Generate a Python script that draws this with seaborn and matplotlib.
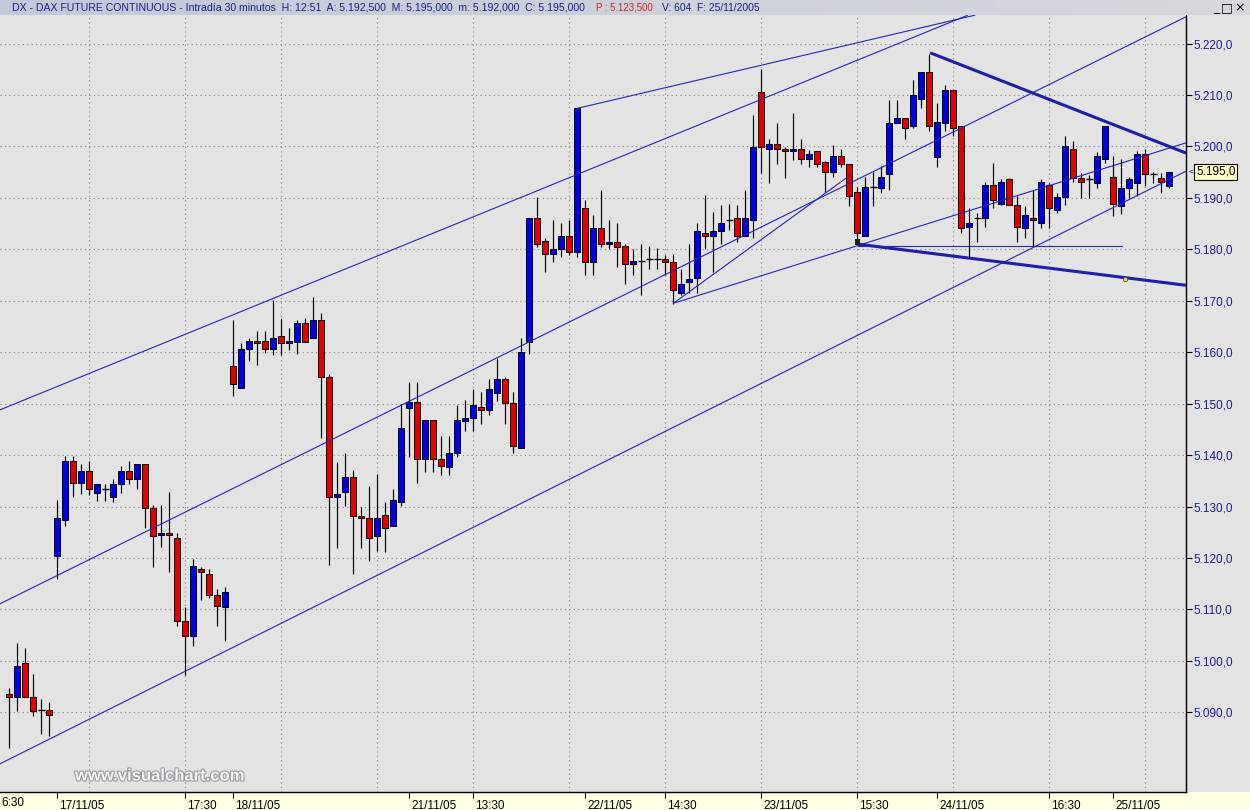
import numpy as np
import pandas as pd
import matplotlib
matplotlib.use("Agg")
import matplotlib.pyplot as plt
import seaborn as sns
import matplotlib.patheffects as pe
from matplotlib.patches import Rectangle
from matplotlib.transforms import ScaledTranslation
from matplotlib.colors import LinearSegmentedColormap
from matplotlib import font_manager

# ---------------- data (30-minute candles, DAX future) ----------------
opens = [5093.6, 5092.9, 5099.5, 5092.9, 5090.4, 5090.5,
         5120.3, 5127.3, 5138.9, 5134.6, 5136.9, 5132.7, 5133.4, 5131.8, 5134.3, 5136.9, 5135.3,
         5138.2, 5129.8, 5124.4, 5124.8, 5123.8, 5107.8, 5104.9, 5117.9, 5116.8, 5112.9, 5110.4,
         5157.3, 5153.1, 5160.6, 5162.2, 5162.2, 5160.6, 5163.2, 5161.7, 5162.0, 5165.6, 5162.7,
         5166.3, 5155.1, 5131.8, 5132.8, 5135.7, 5128.2, 5127.7, 5124.3, 5128.3, 5126.3, 5130.8,
         5149.2, 5150.3, 5139.2, 5146.8, 5139.2, 5137.7, 5140.4, 5146.7, 5147.2, 5149.3, 5148.8,
         5152.1, 5154.7, 5150.2, 5141.3, 5161.9, 5186.0, 5181.6, 5179.0, 5180.0, 5182.6, 5179.5,
         5188.0, 5177.6, 5184.1, 5181.0, 5181.5, 5180.7, 5177.1, 5177.7, 5178.1, 5178.1, 5178.1,
         5177.6, 5171.6, 5173.6, 5174.5, 5183.1, 5182.6, 5183.6, 5185.7, 5186.0, 5182.5, 5185.7,
         5210.6, 5199.4, 5200.4, 5199.5, 5199.1, 5199.5, 5197.5, 5199.1, 5196.9, 5195.0, 5198.1,
         5196.6, 5191.1, 5182.5, 5192.2, 5192.0, 5194.6, 5204.5, 5205.5, 5204.0, 5209.3, 5214.4,
         5198.0, 5204.5, 5211.0, 5204.0, 5184.4, 5186.0, 5186.0, 5192.5, 5188.9, 5193.6, 5188.6,
         5184.1, 5186.1, 5185.1, 5192.5, 5187.6, 5190.1, 5199.4, 5193.9, 5193.6, 5192.9, 5197.5,
         5194.0, 5188.5, 5192.0, 5192.9, 5198.5, 5194.6, 5193.9, 5192.4]
highs = [5094.7, 5103.4, 5102.5, 5097.4, 5092.6, 5092.0,
         5131.3, 5139.8, 5139.8, 5138.3, 5138.9, 5134.4, 5134.4, 5135.3, 5137.9, 5138.9, 5138.2,
         5138.2, 5130.3, 5130.3, 5132.8, 5124.8, 5110.5, 5119.9, 5118.3, 5117.8, 5113.9, 5114.3,
         5166.3, 5161.7, 5162.8, 5164.1, 5164.1, 5170.1, 5166.6, 5164.8, 5166.3, 5166.6, 5170.8,
         5167.7, 5155.8, 5138.7, 5140.4, 5137.2, 5130.0, 5133.9, 5136.3, 5130.8, 5133.4, 5149.9,
         5154.3, 5154.3, 5146.8, 5146.8, 5143.8, 5143.7, 5149.7, 5150.7, 5152.8, 5152.3, 5154.7,
         5158.8, 5155.2, 5152.2, 5162.7, 5186.0, 5190.2, 5182.1, 5185.7, 5185.1, 5185.7, 5207.4,
         5189.6, 5186.7, 5191.5, 5185.7, 5185.1, 5181.0, 5180.0, 5181.0, 5180.6, 5180.2, 5178.8,
         5179.1, 5176.2, 5181.0, 5185.1, 5190.6, 5187.2, 5188.6, 5188.9, 5188.6, 5191.5, 5206.1,
         5215.0, 5201.4, 5204.5, 5199.9, 5206.4, 5201.4, 5199.3, 5199.1, 5197.2, 5200.3, 5199.5,
         5196.6, 5192.2, 5194.1, 5195.1, 5196.2, 5209.0, 5209.0, 5205.5, 5212.9, 5214.4, 5218.0,
         5208.4, 5211.9, 5211.0, 5204.0, 5188.0, 5187.0, 5193.1, 5196.7, 5193.6, 5193.9, 5190.4,
         5188.4, 5191.5, 5193.6, 5192.8, 5190.9, 5202.0, 5201.0, 5194.9, 5194.4, 5199.0, 5204.0,
         5198.1, 5197.5, 5194.1, 5199.2, 5199.4, 5195.1, 5194.9, 5195.1]
lows = [5083.1, 5090.3, 5092.9, 5089.3, 5085.8, 5085.5,
        5115.9, 5126.2, 5131.8, 5132.4, 5132.2, 5131.1, 5131.1, 5130.8, 5132.7, 5134.3, 5133.4,
        5125.8, 5118.3, 5122.2, 5117.3, 5106.8, 5097.3, 5102.8, 5111.8, 5112.3, 5106.8, 5103.9,
        5151.5, 5153.1, 5158.2, 5157.6, 5159.8, 5159.5, 5159.5, 5160.4, 5159.7, 5162.0, 5162.7,
        5143.3, 5118.6, 5121.9, 5130.2, 5116.9, 5121.9, 5119.4, 5121.4, 5121.2, 5126.3, 5130.2,
        5139.7, 5134.6, 5136.8, 5136.8, 5136.1, 5136.1, 5139.7, 5144.7, 5144.7, 5146.0, 5147.7,
        5150.6, 5146.0, 5140.4, 5141.3, 5159.6, 5180.5, 5175.5, 5177.6, 5178.6, 5178.9, 5178.6,
        5175.1, 5175.1, 5180.5, 5180.0, 5176.5, 5173.2, 5175.1, 5171.1, 5176.2, 5176.2, 5175.1,
        5169.4, 5171.1, 5171.6, 5171.6, 5180.0, 5175.5, 5181.0, 5183.8, 5181.5, 5182.5, 5182.1,
        5194.8, 5192.9, 5196.5, 5193.9, 5197.4, 5196.5, 5195.9, 5195.9, 5191.1, 5194.1, 5195.9,
        5188.5, 5181.3, 5182.5, 5188.5, 5191.0, 5191.5, 5204.5, 5201.4, 5203.5, 5207.4, 5203.0,
        5195.9, 5203.0, 5202.0, 5183.1, 5178.6, 5181.5, 5184.4, 5188.0, 5188.6, 5188.6, 5181.5,
        5182.1, 5180.6, 5184.1, 5184.1, 5187.0, 5188.6, 5193.0, 5190.0, 5190.0, 5192.0, 5196.8,
        5186.5, 5186.9, 5190.0, 5190.4, 5192.3, 5192.8, 5191.0, 5191.9]
closes = [5092.9, 5099.0, 5092.9, 5090.3, 5090.4, 5089.4,
          5127.7, 5138.9, 5134.6, 5136.9, 5133.4, 5134.4, 5133.4, 5134.4, 5136.9, 5135.3, 5138.2,
          5129.8, 5124.3, 5124.8, 5124.4, 5107.8, 5104.9, 5118.4, 5117.3, 5112.9, 5110.7, 5113.3,
          5153.8, 5160.6, 5162.2, 5161.7, 5160.6, 5162.7, 5161.7, 5162.2, 5165.6, 5162.0, 5166.3,
          5155.1, 5131.8, 5132.4, 5135.7, 5128.2, 5127.7, 5123.8, 5127.7, 5125.8, 5131.3, 5145.3,
          5150.3, 5139.2, 5146.8, 5139.2, 5137.9, 5140.4, 5146.8, 5147.2, 5149.7, 5148.8, 5152.8,
          5154.7, 5150.2, 5141.8, 5160.1, 5186.0, 5181.0, 5179.0, 5180.0, 5182.6, 5179.5, 5207.4,
          5177.6, 5184.1, 5181.0, 5181.5, 5180.5, 5177.1, 5177.7, 5177.7, 5178.1, 5178.1, 5177.6,
          5172.0, 5173.3, 5174.2, 5183.6, 5182.6, 5183.6, 5185.2, 5185.7, 5182.5, 5186.0, 5199.9,
          5199.9, 5200.4, 5199.4, 5199.1, 5199.5, 5197.5, 5198.5, 5196.5, 5195.0, 5198.1, 5196.5,
          5190.4, 5183.1, 5192.2, 5192.2, 5194.1, 5204.5, 5205.5, 5203.5, 5210.0, 5214.4, 5204.0,
          5204.8, 5211.0, 5203.5, 5184.1, 5185.1, 5186.0, 5192.5, 5189.6, 5193.1, 5188.6, 5184.4,
          5186.7, 5185.7, 5193.1, 5188.0, 5190.2, 5200.1, 5193.9, 5193.0, 5193.6, 5198.1, 5204.0,
          5188.9, 5192.0, 5193.7, 5198.5, 5194.6, 5194.6, 5193.0, 5195.1]

# x-axis labels (bar index -> text)
tick_idx = [6, 22, 28, 50, 58, 72, 82, 94, 106, 116, 130, 138]
tick_labels = ['17/11/05', '17:30', '18/11/05', '21/11/05', '13:30', '22/11/05',
               '14:30', '23/11/05', '15:30', '24/11/05', '16:30', '25/11/05']
first_label = '6:30'
grid_idx = [10, 22, 34, 46, 58, 70, 82, 94, 106, 118, 130, 142]
price_levels = [5090, 5100, 5110, 5120, 5130, 5140, 5150, 5160, 5170, 5180, 5190, 5200, 5210, 5220]

# hand-drawn trend lines (bar index, price)
thin_x0 = [-1.16, 71.0, -1.16, -1.16, 83.2, 83.0]
thin_p0 = [5148.8, 5207.4, 5111.1, 5080.0, 5169.6, 5169.5]
thin_x1 = [119.8, 120.7, 147.1, 147.1, 147.1, 105.1]
thin_p1 = [5225.5, 5225.5, 5225.2, 5195.2, 5200.7, 5194.4]
thick_x0 = [115.1, 106.1]
thick_p0 = [5218.2, 5181.0]
thick_x1 = [147.1, 147.1]
thick_p1 = [5198.7, 5173.0]
hline_x = [106.1, 139.1]
hline_p = 5180.7
anchor_x, anchor_p = [106.0], [5181.4]
dot_x, dot_p = [139.5], [5174.3]

header_main = "DX - DAX FUTURE CONTINUOUS - Intradía 30 minutos  H: 12:51  A: 5.192,500  M: 5.195,000  m: 5.192,000  C: 5.195,000"
header_red = "P : 5.123,500"
header_tail = "V: 604  F: 25/11/2005"
last_price_label = "5.195,0"
watermark = "www.visualchart.com"

# ---------------- styling ----------------
sns.set_style("white")
plt.rcParams['font.family'] = ['Liberation Sans', 'DejaVu Sans']
avail = {f.name for f in font_manager.fontManager.ttflist}
NARROW = 'Liberation Sans Narrow' if 'Liberation Sans Narrow' in avail else 'Liberation Sans'

BG = '#E3E3E3'
BLUE = '#0000E0'
RED = '#E00000'
LINE = '#2424B8'
THICK = '#1E1EA6'
NAVY = '#1E1E8C'

W, H = 1250, 810
def fy(py):
    return 1 - py / H

fig = plt.figure(figsize=(12.5, 8.1), dpi=100, facecolor=BG)
fig.patches.append(Rectangle((0, 0), 1, 18 / H, transform=fig.transFigure,
                             facecolor='#FFFFE1', edgecolor='none', zorder=-5))

ax = fig.add_axes([0, 18 / H, 1186 / W, 777 / H])
ax.set_facecolor(BG)
ax.set_xlim(-1.1625, 147.0875)
ax.set_ylim(5074.52, 5225.54)

# grid
ax.hlines(price_levels, -1.1625, 147.0875, colors='#808080', linestyles=(0, (1, 3)), lw=0.8, zorder=1)
ax.vlines(grid_idx, 5074.52, 5225.54, colors='#808080', linestyles=(0, (1, 3)), lw=0.8, zorder=1)

# candles
df = pd.DataFrame({'o': opens, 'h': highs, 'l': lows, 'c': closes})
df['i'] = np.arange(len(df))
ax.vlines(df['i'], df['l'], df['h'], color='black', lw=0.85, zorder=3)
for mask, col in [(df['c'] > df['o'], BLUE), (df['c'] < df['o'], RED)]:
    d = df[mask]
    ax.bar(d['i'], (d['c'] - d['o']).abs(), bottom=np.minimum(d['o'], d['c']), width=0.76,
           color=col, edgecolor='black', linewidth=0.7, zorder=4)
dj = df[df['c'] == df['o']]
ax.hlines(dj['c'], dj['i'] - 0.45, dj['i'] + 0.45, color='black', lw=1.0, zorder=4)

# trend lines
for x0, p0, x1, p1 in zip(thin_x0, thin_p0, thin_x1, thin_p1):
    ax.plot([x0, x1], [p0, p1], color=LINE, lw=0.8, zorder=5)
for x0, p0, x1, p1 in zip(thick_x0, thick_p0, thick_x1, thick_p1):
    ax.plot([x0, x1], [p0, p1], color=THICK, lw=2.2, zorder=5, solid_capstyle='butt')
ax.plot(hline_x, [hline_p, hline_p], color=LINE, lw=0.8, zorder=5)
sns.scatterplot(x=anchor_x, y=anchor_p, marker='s', s=16, color='#202020', edgecolor='none', ax=ax, zorder=6)
sns.scatterplot(x=dot_x, y=dot_p, marker='o', s=10, color='#E8E020', edgecolor='#404040', linewidth=0.5, ax=ax, zorder=6)

# axes styling
for s in ['top', 'left']:
    ax.spines[s].set_visible(False)
for s in ['right', 'bottom']:
    ax.spines[s].set_visible(True)
    ax.spines[s].set_color('black')
    ax.spines[s].set_linewidth(1.0)
ax.yaxis.tick_right()
ax.set_yticks(price_levels)
ax.set_yticklabels([f"{p // 1000}.{p % 1000:03d},0" for p in price_levels])
ax.tick_params(axis='y', direction='out', length=4, width=0.8, color='black',
               labelcolor=NAVY, labelsize=8.5, pad=1.5, right=True, left=False)
ax.set_xticks(tick_idx)
ax.set_xticklabels(tick_labels)
ax.tick_params(axis='x', direction='out', length=4, width=0.8, color='black',
               labelcolor='black', labelsize=8.5, pad=1.5, bottom=True)
shift = ScaledTranslation(2 / 100, 0, fig.dpi_scale_trans)
for lab in ax.get_xticklabels():
    lab.set_ha('left')
    lab.set_transform(lab.get_transform() + shift)
ax.set_xlabel('')
ax.set_ylabel('')
fig.text(1 / W, fy(803), first_label, fontsize=8.5, color='black', va='center', ha='left')

# header bar
hax = fig.add_axes([0, fy(15), 1, 15 / H])
grad = np.linspace(0, 1, 256)[None, :]
cmap = LinearSegmentedColormap.from_list('hdr', ['#C2C9D8', '#D6D8DD'])
hax.imshow(grad, aspect='auto', cmap=cmap, extent=[0, 1, 0, 1])
hax.set_axis_off()

t1 = fig.text(12 / W, fy(8), header_main, fontsize=8.5, family=NARROW, color=NAVY, va='center', ha='left')
t2 = fig.text(596 / W, fy(8), header_red, fontsize=8.5, family=NARROW, color='#E02020', va='center', ha='left')
t3 = fig.text(662 / W, fy(8), header_tail, fontsize=8.5, family=NARROW, color=NAVY, va='center', ha='left')
fig.canvas.draw()
for t, target in [(t1, 575), (t2, 57), (t3, 98)]:
    w = t.get_window_extent().width
    t.set_fontsize(8.5 * target / w)

# window buttons
for xb, ch in [(1216, '_'), (1227, '□'), (1240, '×')]:
    fig.text(xb / W, fy(8), ch, fontsize=9, color='black', ha='center', va='center',
             family=['DejaVu Sans'])

# last price box
fig.text(1196 / W, fy(172), last_price_label, fontsize=8.5, color='black', ha='left', va='center',
         bbox=dict(boxstyle='square,pad=0.15', facecolor='#FFFFC8', edgecolor='black', lw=0.8))
fig.text(1189 / W, fy(172), '<', fontsize=6, color='black', ha='left', va='center')

# watermark
wm = fig.text(75 / W, fy(776), watermark, fontsize=11, weight='bold', color='#F6F6F6',
              ha='left', va='center',
              path_effects=[pe.withStroke(linewidth=1.6, foreground='#9A9AA6')])
fig.canvas.draw()
wm.set_fontsize(11 * 170 / wm.get_window_extent().width)

fig.savefig('out.png', dpi=100, facecolor=BG)
